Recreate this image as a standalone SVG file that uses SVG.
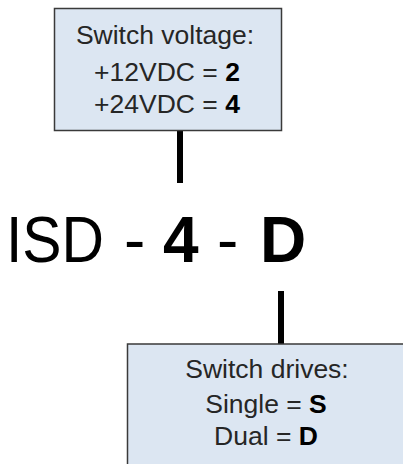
<svg xmlns="http://www.w3.org/2000/svg" width="403" height="464" viewBox="0 0 403 464">
<style>
.box{fill:#dce6f2;stroke:#3a3a3a;stroke-width:1.5}
.lbl{font-family:"Liberation Sans",Arial,sans-serif;font-size:26.5px;fill:#262626;text-anchor:middle}
.big{font-family:"Liberation Sans",Arial,sans-serif;font-size:64px;fill:#000}
.b{font-weight:bold;fill:#000}
.conn{stroke:#000;stroke-width:6;fill:none}
</style>
<rect width="403" height="464" fill="#fff"/>
<g id="connectors">
<line class="conn" x1="180" y1="131" x2="180" y2="183"/>
<line class="conn" x1="281" y1="291" x2="281" y2="344"/>
</g>
<g id="voltage-box">
<rect class="box" x="54.5" y="8.5" width="227" height="122"/>
<text class="lbl" x="165" y="44">Switch voltage:</text>
<text class="lbl" x="167" y="81">+12VDC = <tspan class="b">2</tspan></text>
<text class="lbl" x="167" y="113">+24VDC = <tspan class="b">4</tspan></text>
</g>
<g id="part-number">
<text class="big" x="6" y="262" textLength="98" lengthAdjust="spacingAndGlyphs">ISD</text>
<text class="big" x="124" y="262">-</text>
<text class="big b" x="163" y="262">4</text>
<text class="big" x="217" y="262">-</text>
<text class="big b" x="260" y="262">D</text>
</g>
<g id="drives-box">
<rect class="box" x="127.5" y="344" width="290" height="130"/>
<text class="lbl" x="267" y="378">Switch drives:</text>
<text class="lbl" x="266" y="413">Single = <tspan class="b">S</tspan></text>
<text class="lbl" x="266" y="445">Dual = <tspan class="b">D</tspan></text>
</g>
</svg>
